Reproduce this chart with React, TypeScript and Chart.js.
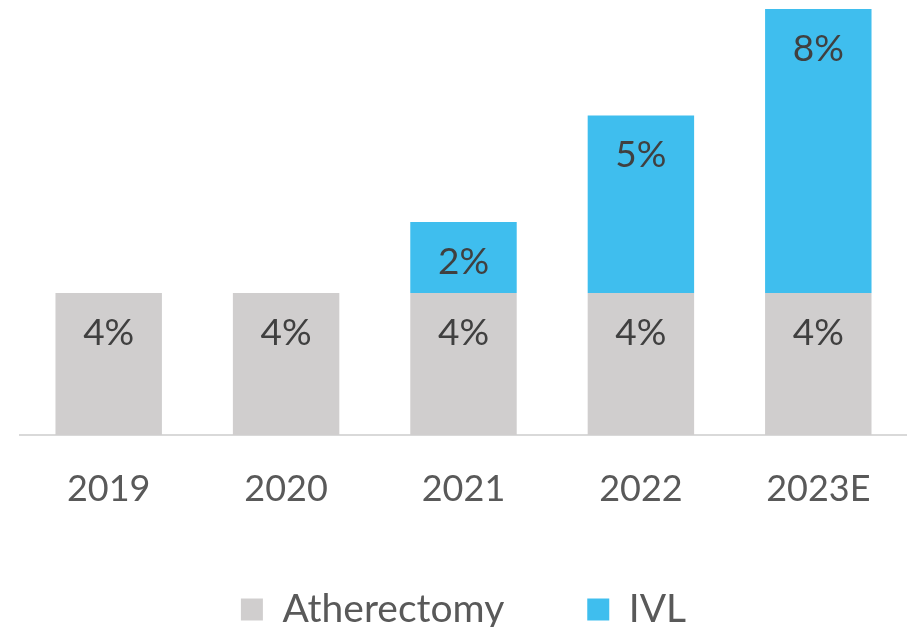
import React, { useEffect, useRef } from "react";
import { Chart, registerables } from "chart.js";

Chart.register(...registerables);

const categories = ["2019", "2020", "2021", "2022", "2023E"];
const atherectomy = [4, 4, 4, 4, 4];
const ivl = [0, 0, 2, 5, 8];
const seriesNames = ["Atherectomy", "IVL"];
const seriesColors = ["#D0CECE", "#3FBEEE"];

const FONT = "Lato";

const dataLabelPlugin = {
  id: "dataLabels",
  afterDatasetsDraw(chart: any) {
    const ctx = chart.ctx;
    ctx.save();
    ctx.font = `37px ${FONT}`;
    ctx.fillStyle = "#404040";
    ctx.textAlign = "center";
    ctx.textBaseline = "middle";
    chart.data.datasets.forEach((ds: any, i: number) => {
      const meta = chart.getDatasetMeta(i);
      meta.data.forEach((el: any, j: number) => {
        const v = ds.data[j];
        if (!v) return;
        ctx.fillText(`${v}%`, el.x, el.y + 40);
      });
    });
    ctx.restore();
  },
};

export default function App() {
  const ref = useRef<HTMLCanvasElement>(null);
  useEffect(() => {
    document.body.style.margin = "0";
    const chart = new Chart(ref.current!, {
      type: "bar",
      data: {
        labels: categories,
        datasets: [
          { label: seriesNames[0], data: atherectomy, backgroundColor: seriesColors[0] },
          { label: seriesNames[1], data: ivl, backgroundColor: seriesColors[1] },
        ],
      },
      options: {
        animation: false,
        responsive: false,
        layout: { padding: { left: 20, top: 9, right: 0, bottom: 0 } },
        datasets: { bar: { categoryPercentage: 1, barPercentage: 0.6 } },
        scales: {
          x: {
            stacked: true,
            grid: { display: false, drawTicks: true, tickLength: 36 },
            border: { display: true, color: "#D9D9D9", width: 2 },
            ticks: {
              color: "#595959",
              font: { family: FONT, size: 36, lineHeight: 1 },
              padding: 0,
            },
          },
          y: {
            stacked: true,
            display: false,
            min: 0,
            max: 12,
          },
        },
        plugins: {
          tooltip: { enabled: false },
          legend: {
            position: "bottom",
            maxHeight: 120,
            labels: {
              color: "#595959",
              font: { family: FONT, size: 39 },
              boxWidth: 22,
              boxHeight: 22,
              padding: 83,
            },
          },
        },
      },
      plugins: [dataLabelPlugin],
    });
    return () => chart.destroy();
  }, []);
  return (
    <div style={{ width: 907, height: 627 }}>
      <canvas ref={ref} width={907} height={627} />
    </div>
  );
}
